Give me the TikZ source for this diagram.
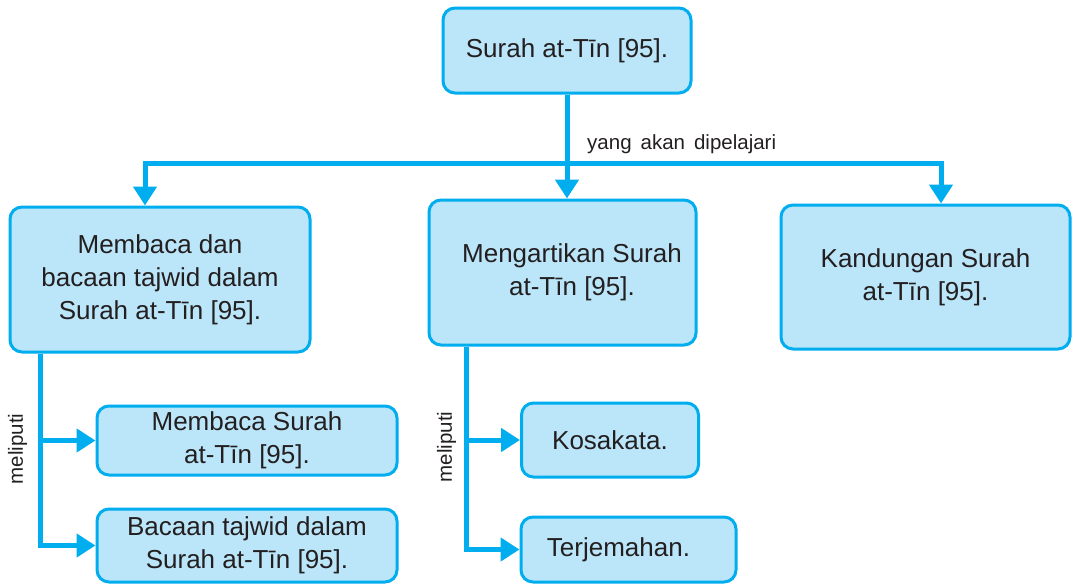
\documentclass[tikz,border=0pt]{standalone}
\usepackage{fontspec}
\setmainfont{Liberation Sans}
\usetikzlibrary{arrows.meta}
\definecolor{flowline}{HTML}{00AEEF}
\definecolor{boxfill}{HTML}{BBE5F8}
\definecolor{ink}{HTML}{231F20}
\begin{document}
\begin{tikzpicture}[x=1pt,y=-1pt,
  box/.style={draw=flowline, fill=boxfill, line width=3pt, rounded corners=12pt,
    align=center, text=ink, inner sep=0pt, font=\fontsize{26}{33}\selectfont},
  link/.style={draw=flowline, line width=5pt, -{Triangle[width=23pt,length=19pt]}},
  note/.style={text=ink, inner sep=0pt, font=\fontsize{20.5}{22}\selectfont}]
\useasboundingbox (0,0) rectangle (1072,584);

% main topic
\node[box, minimum width=248pt, minimum height=85pt] (top) at (567,50.5) {Surah at-Tīn [95].};

% three study areas
\node[box, minimum width=300pt, minimum height=145pt] (read) at (160,279.5)
  {Membaca dan\\bacaan tajwid dalam\\Surah at-Tīn [95].};
\node[box, minimum width=267pt, minimum height=145pt] (mean) at (562.5,272.5)
  {\hspace*{19pt}Mengartikan Surah\\\hspace*{19pt}at-Tīn [95].};
\node[box, minimum width=289pt, minimum height=144pt] (content) at (925.5,277)
  {Kandungan Surah\\at-Tīn [95].};

% details of reading
\node[box, minimum width=300pt, minimum height=69pt] (readsurah) at (247,440.5)
  {Membaca Surah\\at-Tīn [95].};
\node[box, minimum width=300pt, minimum height=73pt] (tajwid) at (247,545.5)
  {Bacaan tajwid dalam\\Surah at-Tīn [95].};

% details of meaning
\node[box, minimum width=177pt, minimum height=74pt] (vocab) at (610,440) {Kosakata.};
\node[box, minimum width=215pt, minimum height=65pt] (transl) at (628.5,549.5)
  {Terjemahan.\hspace*{20pt}};

% branching bar
\coordinate (bar) at (567,163);
\coordinate (barL) at (145,163);
\coordinate (barR) at (941,163);
\draw[link] (top.south) -- (top.south |- mean.north);
\draw[link] (bar) -| (barL |- read.north);
\draw[link] (bar) -| (barR |- content.north);
\node[note, anchor=base west] (studied) at (587,149)
  {\spaceskip=9pt yang akan dipelajari};

% left spine
\coordinate (spineL) at (40,0);
\draw[link] (read.south -| spineL) |- (tajwid.west);
\draw[link] (spineL |- readsurah.west) -- (readsurah.west);
\node[note, rotate=90] (incL) at (17.5,449) {meliputi};

% middle spine
\coordinate (spineM) at (466,0);
\draw[link] (mean.south -| spineM) |- (transl.west);
\draw[link] (spineM |- vocab.west) -- (vocab.west);
\node[note, rotate=90] (incM) at (446.5,447) {meliputi};
\end{tikzpicture}
\end{document}
